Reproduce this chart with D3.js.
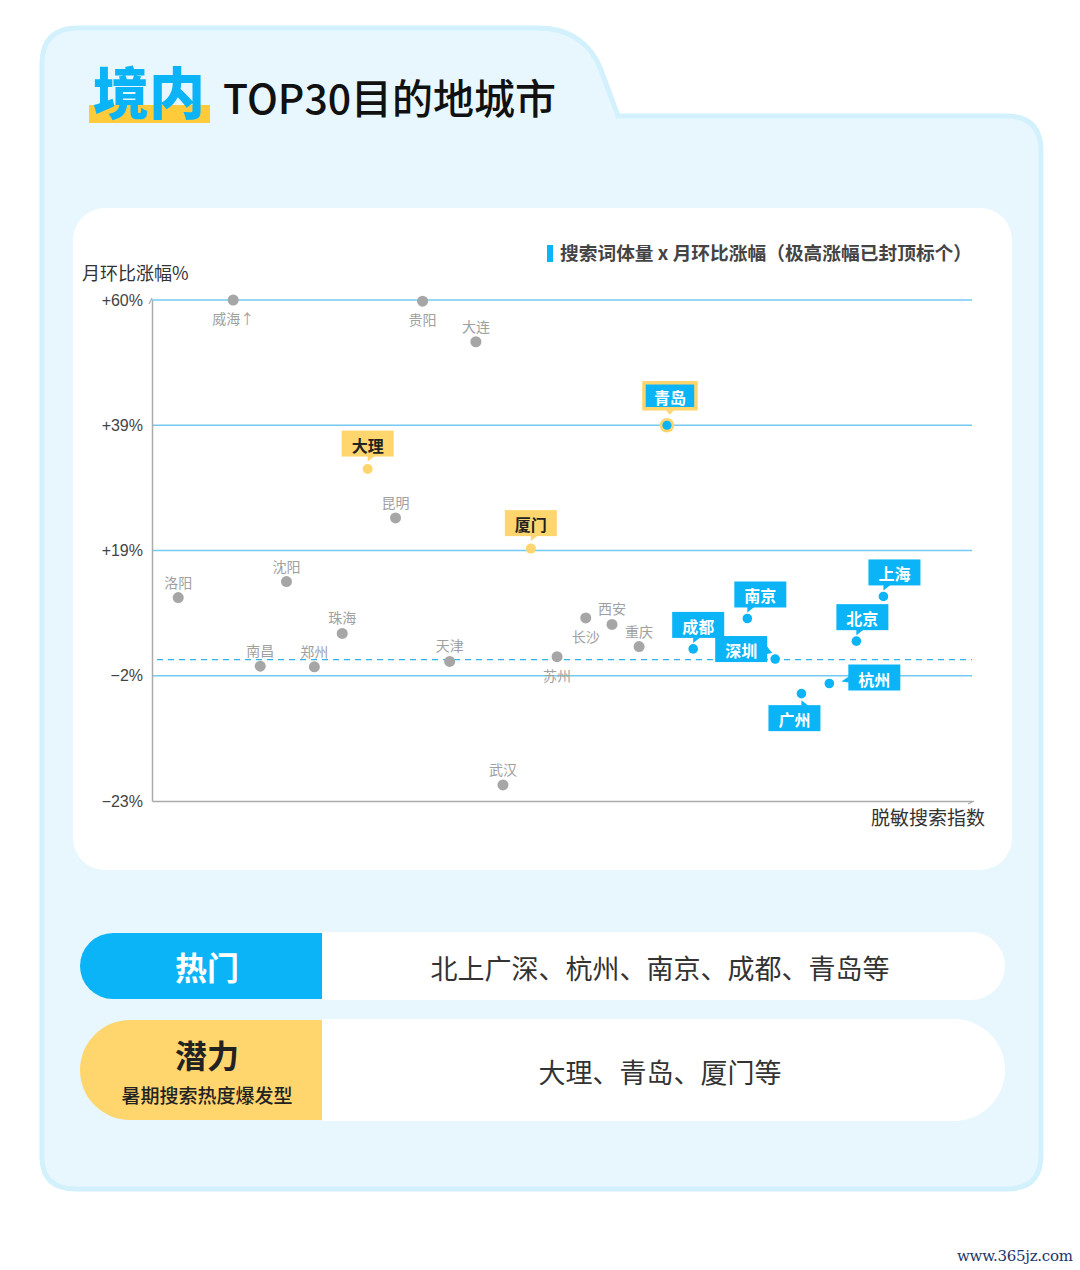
<!DOCTYPE html>
<html>
<head>
<meta charset="utf-8">
<script src="https://cdn.jsdelivr.net/npm/d3@7/dist/d3.min.js"></script>
<style>
  html, body { margin: 0; padding: 0; background: #ffffff; }
  svg { display: block; }
</style>
</head>
<body>
<div id="chart"></div>
<script>
// ---------------- DATA ----------------
const cities      = ["威海","贵阳","大连","青岛","大理","昆明","厦门","洛阳","沈阳","上海","南京","长沙","西安","珠海","北京","重庆","成都","苏州","深圳","天津","南昌","郑州","杭州","广州","武汉"];
const searchIndex = [9.9, 33.0, 39.5, 62.8, 26.3, 29.7, 46.2, 3.2, 16.4, 89.2, 72.6, 52.9, 56.1, 23.2, 85.9, 59.4, 66.0, 49.4, 76.0, 36.3, 13.2, 19.8, 82.6, 79.2, 42.8];
const momGrowth   = [60, 59.8, 53.0, 39.0, 32.0, 24.2, 19.3, 11.1, 13.8, 11.3, 7.6, 7.7, 6.6, 5.1, 3.8, 2.9, 2.5, 1.2, 0.8, 0.4, -0.4, -0.5, -3.3, -5.0, -20.3];
const cityGroup   = ["其他","其他","其他","热门潜力","潜力","其他","潜力","其他","其他","热门","热门","其他","其他","其他","热门","其他","热门","其他","热门","其他","其他","其他","热门","热门","其他"];
const cappedCities = ["威海"];
const averageGrowth = 0.7;
const yTickValues = [-23, -2, 19, 39, 60];
const yTickLabels = ["−23%", "−2%", "+19%", "+39%", "+60%"];
const summaryTitles    = ["热门", "潜力"];
const summarySubtitles = ["", "暑期搜索热度爆发型"];
const summaryCities    = ["北上广深、杭州、南京、成都、青岛等", "大理、青岛、厦门等"];

// ---------------- LAYOUT / STYLE ----------------
const W = 1080, H = 1270;
const CJK = "'Noto Sans CJK SC','Noto Sans',sans-serif";
const LAT = "'Liberation Sans',Arial,sans-serif";
const BLUE = "#0bb4f7", YELLOW = "#ffd66e", GREY = "#a6a6a6", GRID = "#74c9f2";
const plot = { left: 152, right: 972, top: 300, bottom: 801 };

const labelLayout = {
  "威海":{side:"below"}, "贵阳":{side:"below"}, "大连":{side:"above"}, "昆明":{side:"above"},
  "洛阳":{side:"above"}, "沈阳":{side:"above"}, "珠海":{side:"above"}, "南昌":{side:"above"},
  "郑州":{side:"above"}, "天津":{side:"above"}, "武汉":{side:"above"}, "苏州":{side:"below"},
  "长沙":{side:"below"}, "西安":{side:"above"}, "重庆":{side:"above"},
  "成都":{side:"above",dx:5}, "南京":{side:"above",dx:13}, "上海":{side:"above",dx:11},
  "北京":{side:"above",dx:6}, "深圳":{side:"left",dy:-10}, "杭州":{side:"right",dy:-6},
  "广州":{side:"below",dx:-7}, "青岛":{side:"above",dx:3}, "大理":{side:"above"}, "厦门":{side:"above"}
};

const svg = d3.select("#chart").append("svg").attr("width", W).attr("height", H);
svg.append("rect").attr("width", W).attr("height", H).attr("fill", "#fff");

// outer tab card
svg.append("path")
  .attr("d", "M42,1157 L42,64 Q42,28 78,28 L538,28 C572,28 592,46 601,70 L618,116 L1006,116 Q1041,116 1041,151 L1041,1155 Q1041,1189 1007,1189 L76,1189 Q42,1189 42,1157 Z")
  .attr("fill", "#e8f7fe").attr("stroke", "#d3f1fd").attr("stroke-width", 5);

// title
svg.append("rect").attr("x", 89).attr("y", 105).attr("width", 121).attr("height", 18).attr("fill", "#ffcb3a");
svg.append("text").attr("x", 93).attr("y", 114).attr("font-family", CJK).attr("font-weight", 900)
  .attr("font-size", 56).attr("fill", BLUE).text("境内");
svg.append("text").attr("x", 223).attr("y", 114).attr("font-family", CJK).attr("font-weight", 500)
  .attr("font-size", 41).attr("fill", "#111").text("TOP30目的地城市");

// inner white card
svg.append("rect").attr("x", 73).attr("y", 208).attr("width", 939).attr("height", 662)
  .attr("rx", 32).attr("fill", "#fff");

// legend
svg.append("rect").attr("x", 547).attr("y", 245).attr("width", 6).attr("height", 17).attr("fill", BLUE);
svg.append("text").attr("x", 560).attr("y", 260).attr("font-family", CJK).attr("font-weight", 700)
  .attr("font-size", 18.7).attr("textLength", 412).attr("lengthAdjust", "spacing")
  .attr("fill", "#444").text("搜索词体量 x 月环比涨幅（极高涨幅已封顶标个）");

// scales
const x = d3.scaleLinear().domain([0, 100]).range([plot.left, plot.right]);
const y = d3.scaleLinear().domain(yTickValues)
  .range(yTickValues.map((d, i) => plot.bottom - i * (plot.bottom - plot.top) / (yTickValues.length - 1)));

// gridlines
svg.append("g").selectAll("line").data(yTickValues.slice(1)).join("line")
  .attr("x1", plot.left).attr("x2", plot.right)
  .attr("y1", d => y(d)).attr("y2", d => y(d))
  .attr("stroke", GRID).attr("stroke-width", 1.6);

// average dashed line
svg.append("line").attr("x1", plot.left + 5).attr("x2", plot.right)
  .attr("y1", y(averageGrowth)).attr("y2", y(averageGrowth))
  .attr("stroke", "#2fb3ef").attr("stroke-width", 1.4).attr("stroke-dasharray", "6,5");

// axes
const yAxis = d3.axisLeft(y).tickValues(yTickValues).tickSize(0).tickPadding(9)
  .tickFormat((d, i) => yTickLabels[i]);
const gy = svg.append("g").attr("transform", `translate(${plot.left},0)`).call(yAxis);
gy.select(".domain").attr("stroke", "#aaa").attr("stroke-width", 1.5);
gy.selectAll("text").attr("font-family", LAT).attr("font-size", 16).attr("fill", "#444");

const xAxis = d3.axisBottom(x).tickValues([]).tickSize(0);
const gx = svg.append("g").attr("transform", `translate(0,${plot.bottom})`).call(xAxis);
gx.select(".domain").attr("stroke", "#aaa").attr("stroke-width", 1.5);

// small arrow tips
svg.append("path").attr("d", `M${plot.left - 3},${plot.top + 4} L${plot.left},${plot.top - 2}`)
  .attr("stroke", "#aaa").attr("stroke-width", 1.2).attr("fill", "none");
svg.append("path").attr("d", `M${plot.right - 4},${plot.bottom + 3} L${plot.right + 2},${plot.bottom}`)
  .attr("stroke", "#aaa").attr("stroke-width", 1.2).attr("fill", "none");

// axis titles
svg.append("text").attr("x", 82).attr("y", 280).attr("font-family", CJK).attr("font-size", 18)
  .attr("fill", "#333").text("月环比涨幅%");
svg.append("text").attr("x", 985).attr("y", 825).attr("text-anchor", "end").attr("font-family", CJK)
  .attr("font-size", 19).attr("fill", "#333").text("脱敏搜索指数");

// points
const pts = cities.map((c, i) => ({ city: c, x: searchIndex[i], y: momGrowth[i], g: cityGroup[i] }));
const others = pts.filter(d => d.g === "其他");
const highlights = pts.filter(d => d.g !== "其他");

svg.append("g").selectAll("circle").data(others).join("circle")
  .attr("cx", d => x(d.x)).attr("cy", d => y(d.y)).attr("r", 5.5).attr("fill", GREY);

svg.append("g").selectAll("text").data(others).join("text")
  .attr("x", d => x(d.x) + (labelLayout[d.city].dx || 0))
  .attr("y", d => y(d.y) + (labelLayout[d.city].side === "below" ? 18 : -16))
  .attr("dominant-baseline", "central").attr("text-anchor", "middle")
  .attr("font-family", CJK).attr("font-size", 14).attr("fill", "#a0a0a0")
  .text(d => d.city + (cappedCities.includes(d.city) ? "↑" : ""));

// highlighted points with callout boxes
const BW = 52, BH = 26;
const hg = svg.append("g");
highlights.forEach(d => {
  const cx = x(d.x), cy = y(d.y);
  const lay = labelLayout[d.city];
  const isPot = d.g === "潜力";
  const isBoth = d.g === "热门潜力";
  const fill = isPot ? YELLOW : BLUE;
  const txtColor = isPot ? "#222" : "#fff";
  const dx = lay.dx || 0, dy = lay.dy || 0;
  let bx, by, tri;
  if (lay.side === "above") {
    const gap = isBoth ? 16.5 : (isPot ? 12.5 : 11);
    bx = cx + dx - BW / 2; by = cy - gap - BH;
    tri = [[cx, by + BH - 0.5], [cx + 7, by + BH - 0.5], [cx, by + BH + 5]];
  } else if (lay.side === "below") {
    bx = cx + dx - BW / 2; by = cy + 11.5;
    tri = [[cx, by + 0.5], [cx + 7, by + 0.5], [cx, by - 5]];
  } else if (lay.side === "left") {
    bx = cx - 8 - BW; by = cy + dy - BH / 2;
    tri = [[bx + BW - 0.5, by + 10], [bx + BW + 5, by + 17], [bx + BW - 0.5, by + 18]];
  } else {
    bx = cx + 19; by = cy + dy - BH / 2;
    tri = [[bx + 0.5, by + 12], [bx - 7, by + 17], [bx + 0.5, by + 18]];
  }
  if (isBoth) {
    hg.append("circle").attr("cx", cx).attr("cy", cy).attr("r", 7.3).attr("fill", YELLOW);
    hg.append("circle").attr("cx", cx).attr("cy", cy).attr("r", 4.6).attr("fill", BLUE);
    hg.append("rect").attr("x", bx).attr("y", by).attr("width", BW).attr("height", BH)
      .attr("fill", BLUE).attr("stroke", YELLOW).attr("stroke-width", 3.5);
    hg.append("path").attr("d", d3.line()([[cx - 1, by + BH + 1.5], [cx + 7, by + BH + 1.5], [cx + 3, by + BH + 6]]) + "Z").attr("fill", YELLOW);
  } else {
    hg.append("circle").attr("cx", cx).attr("cy", cy).attr("r", isPot ? 5 : 4.8).attr("fill", fill);
    hg.append("rect").attr("x", bx).attr("y", by).attr("width", BW).attr("height", BH).attr("fill", fill);
    hg.append("path").attr("d", d3.line()(tri) + "Z").attr("fill", fill);
  }
  hg.append("text").attr("x", bx + BW / 2).attr("y", by + BH / 2 + 1)
    .attr("text-anchor", "middle").attr("dominant-baseline", "central")
    .attr("font-family", CJK).attr("font-weight", 700).attr("font-size", 16)
    .attr("fill", txtColor).text(d.city);
});

// summary rows
const rows = [
  { top: 932, h: 68, color: BLUE, titleColor: "#fff" },
  { top: 1019, h: 102, color: "#ffd56e", titleColor: "#222" }
];
rows.forEach((r, i) => {
  const R = r.h / 2;
  svg.append("path")
    .attr("d", `M322,${r.top} L${1005 - R},${r.top} A${R},${R} 0 0 1 ${1005 - R},${r.top + r.h} L322,${r.top + r.h} Z`)
    .attr("fill", "#fff");
  const t = r.top + 1, hh = r.h - 2, R2 = hh / 2;
  svg.append("path")
    .attr("d", `M322,${t} L${80 + R2},${t} A${R2},${R2} 0 0 0 ${80 + R2},${t + hh} L322,${t + hh} Z`)
    .attr("fill", r.color);
  const cy = r.top + r.h / 2;
  if (summarySubtitles[i]) {
    svg.append("text").attr("x", 207).attr("y", cy - 16).attr("text-anchor", "middle")
      .attr("dominant-baseline", "central").attr("font-family", CJK).attr("font-weight", 700)
      .attr("font-size", 32).attr("fill", r.titleColor).text(summaryTitles[i]);
    svg.append("text").attr("x", 207).attr("y", cy + 24).attr("text-anchor", "middle")
      .attr("dominant-baseline", "central").attr("font-family", CJK).attr("font-weight", 500)
      .attr("font-size", 19).attr("fill", "#222").text(summarySubtitles[i]);
  } else {
    svg.append("text").attr("x", 207).attr("y", cy).attr("text-anchor", "middle")
      .attr("dominant-baseline", "central").attr("font-family", CJK).attr("font-weight", 700)
      .attr("font-size", 32).attr("fill", r.titleColor).text(summaryTitles[i]);
  }
  svg.append("text").attr("x", 660).attr("y", cy + 1).attr("text-anchor", "middle")
    .attr("dominant-baseline", "central").attr("font-family", CJK)
    .attr("font-size", 27).attr("fill", "#333").text(summaryCities[i]);
});

// watermark
svg.append("text").attr("x", 957).attr("y", 1261).attr("font-family", "'DejaVu Serif',serif")
  .attr("font-size", 15).attr("textLength", 116).attr("fill", "#1b356b").text("www.365jz.com");
</script>
</body>
</html>
